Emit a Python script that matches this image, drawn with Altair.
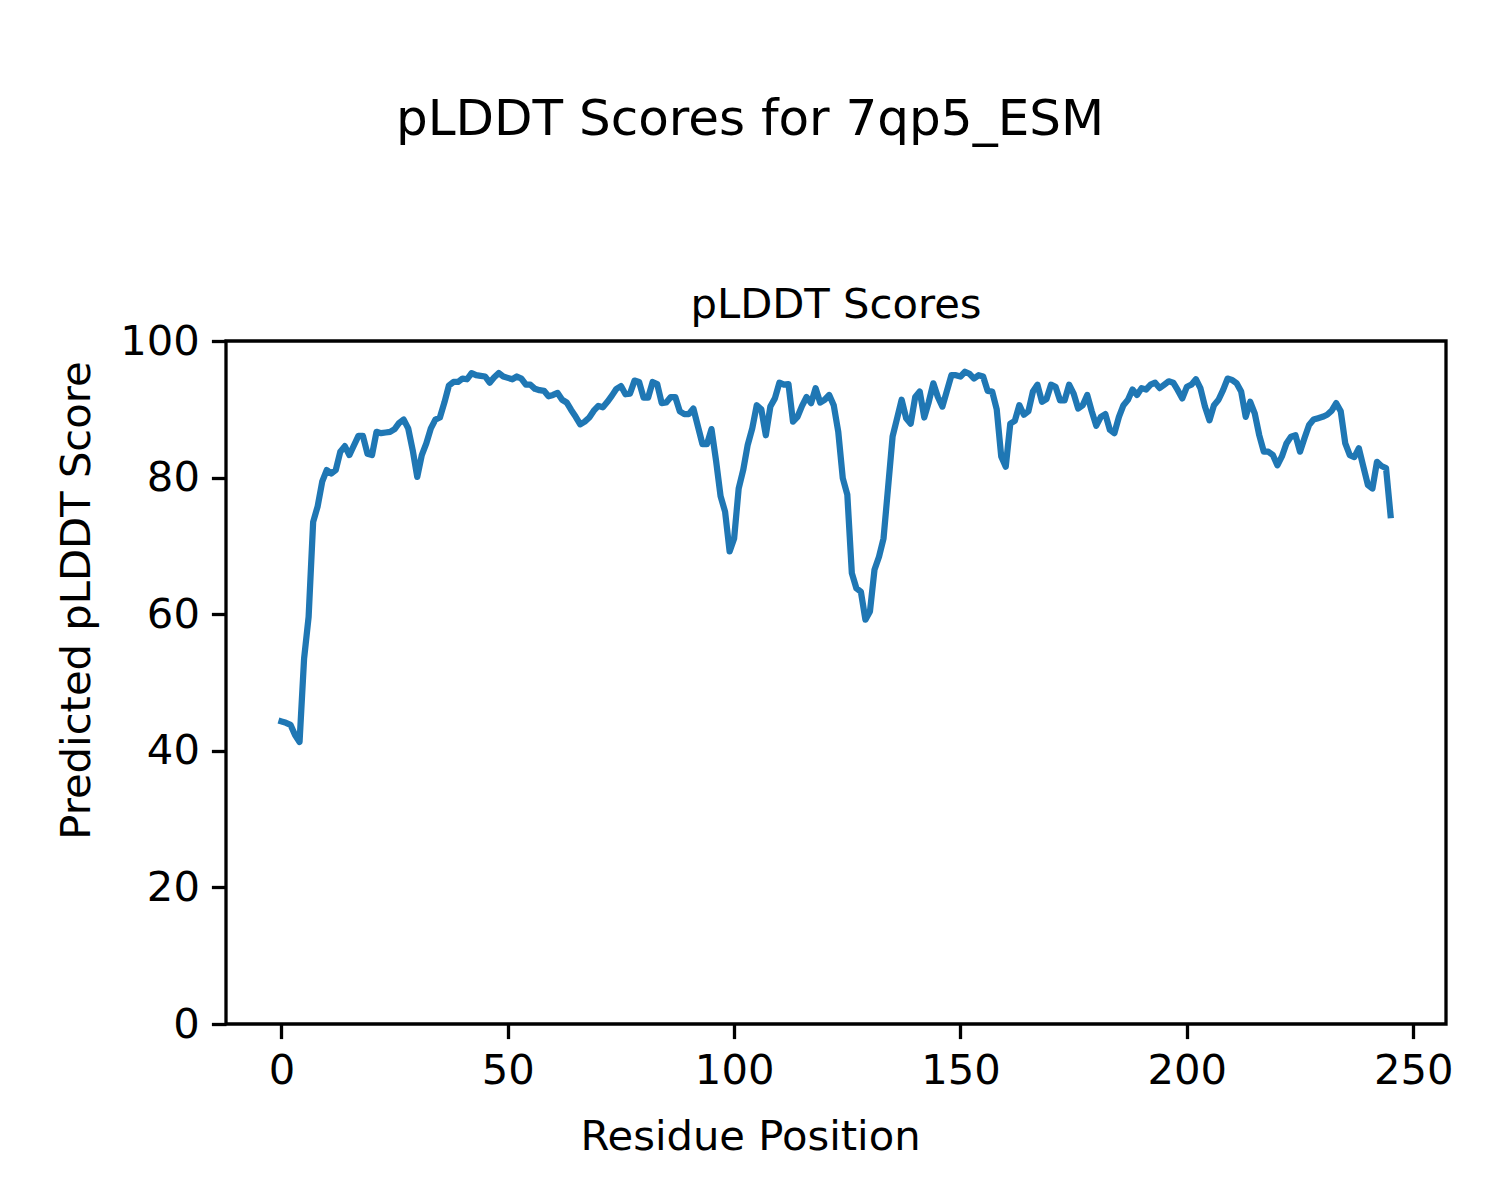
import altair as alt
import pandas as pd

suptitle = "pLDDT Scores for 7qp5_ESM"
axes_title = "pLDDT Scores"
x_label = "Residue Position"
y_label = "Predicted pLDDT Score"
x_ticks = [0, 50, 100, 150, 200, 250]
y_ticks = [0, 20, 40, 60, 80, 100]

scores = [
    44.3, 44.1, 43.8, 42.3, 41.3, 53.5, 59.6, 73.5, 75.8, 79.4,   # 0-9
    81.1, 80.6, 81.1, 83.8, 84.6, 83.3, 84.7, 86.1, 86.1, 83.5,   # 10-19
    83.3, 86.7, 86.5, 86.6, 86.7, 87.1, 88.0, 88.5, 87.2, 84.0,   # 20-29
    80.1, 83.3, 85.0, 87.2, 88.5, 88.8, 91.0, 93.5, 94.0, 94.0,   # 30-39
    94.5, 94.4, 95.3, 95.0, 94.9, 94.8, 93.9, 94.7, 95.3, 94.8,   # 40-49
    94.6, 94.4, 94.8, 94.5, 93.6, 93.6, 93.0, 92.8, 92.7, 91.9,   # 50-59
    92.1, 92.4, 91.4, 91.0, 89.9, 88.9, 87.8, 88.2, 88.8, 89.8,   # 60-69
    90.5, 90.3, 91.1, 92.0, 93.0, 93.4, 92.2, 92.3, 94.2, 94.0,   # 70-79
    91.7, 91.7, 94.0, 93.7, 90.9, 91.0, 91.8, 91.8, 89.7, 89.3,   # 80-89
    89.3, 90.1, 87.5, 84.9, 84.9, 87.1, 82.5, 77.3, 75.0, 69.2,   # 90-99
    71.1, 78.4, 81.1, 84.8, 87.2, 90.6, 90.0, 86.2, 90.4, 91.6,   # 100-109
    93.9, 93.6, 93.7, 88.2, 88.9, 90.5, 91.8, 90.9, 93.1, 91.0,   # 110-119
    91.4, 92.1, 90.6, 86.7, 79.9, 77.5, 66.0, 63.8, 63.3, 59.2,   # 120-129
    60.4, 66.5, 68.4, 71.1, 78.5, 86.0, 88.7, 91.4, 88.7, 87.9,   # 130-139
    91.8, 92.6, 88.8, 91.1, 93.8, 91.8, 90.4, 92.7, 95.0, 95.0,   # 140-149
    94.8, 95.5, 95.2, 94.5, 95.0, 94.8, 92.7, 92.6, 90.0, 83.1,   # 150-159
    81.6, 87.9, 88.3, 90.6, 89.2, 89.7, 92.6, 93.6, 91.1, 91.5,   # 160-169
    93.6, 93.3, 91.3, 91.3, 93.6, 92.3, 90.1, 90.6, 92.1, 89.7,   # 170-179
    87.6, 88.9, 89.3, 87.0, 86.5, 88.9, 90.6, 91.4, 92.9, 92.1,   # 180-189
    93.1, 92.9, 93.6, 93.9, 93.1, 93.6, 94.1, 93.9, 92.8, 91.6,   # 190-199
    93.3, 93.6, 94.4, 93.1, 90.4, 88.4, 90.6, 91.4, 92.8, 94.5,   # 200-209
    94.3, 93.8, 92.6, 88.9, 91.1, 89.4, 86.2, 83.8, 83.8, 83.3,   # 210-219
    81.8, 83.1, 85.0, 86.0, 86.2, 83.8, 85.8, 87.7, 88.5, 88.7,   # 220-229
    88.9, 89.2, 89.8, 90.9, 89.7, 85.0, 83.3, 83.0, 84.3, 81.6,   # 230-239
    78.9, 78.4, 82.3, 81.7, 81.4, 74.5,                           # 240-245
]
residues = list(range(len(scores)))

df = pd.DataFrame({"residue": residues, "score": scores})

FONT = "DejaVu Sans"
LW = 3.3
PLOT_LEFT = 226   # page x of plot-area left edge (8px page margin included)
PLOT_TOP = 341
W, H = 1220, 683

line = alt.Chart(df).mark_line(
    color="#1f77b4", strokeWidth=6.25, strokeJoin="round", strokeCap="square"
).encode(
    x=alt.X("residue:Q",
            scale=alt.Scale(domain=[-12.25, 257.25], nice=False, zero=False),
            axis=alt.Axis(title=x_label, values=x_ticks, titlePadding=24,
                          titleX=750 - PLOT_LEFT)),
    y=alt.Y("score:Q",
            scale=alt.Scale(domain=[0, 100], nice=False),
            axis=alt.Axis(title=y_label, values=y_ticks, titlePadding=21,
                          titleY=600 - PLOT_TOP)),
)

sup = alt.Chart(pd.DataFrame({"t": [suptitle]})).mark_text(
    font=FONT, fontSize=50, color="black", align="center", baseline="alphabetic"
).encode(
    text="t:N",
    x=alt.value(750 - PLOT_LEFT),
    y=alt.value(135 - PLOT_TOP),
)

ttl = alt.Chart(pd.DataFrame({"t": [axes_title]})).mark_text(
    font=FONT, fontSize=41.7, color="black", align="center", baseline="alphabetic"
).encode(
    text="t:N",
    x=alt.value(W / 2),
    y=alt.value(-23),
)

chart = alt.layer(line, sup, ttl).properties(
    width=W,
    height=H,
    background="white",
    autosize=alt.AutoSizeParams(type="none"),
    padding={"left": PLOT_LEFT - 8, "top": PLOT_TOP - 8, "right": 40, "bottom": 160},
).configure_view(
    stroke="black", strokeWidth=LW
).configure_axis(
    grid=False,
    domain=False,
    tickColor="black", tickWidth=LW, tickSize=14.6,
    labelFont=FONT, labelFontSize=41.7, labelColor="black", labelPadding=12,
    titleFont=FONT, titleFontSize=41.7, titleFontWeight="normal", titleColor="black",
)

chart.save("out.html", embed_options={"renderer": "svg", "actions": False})
